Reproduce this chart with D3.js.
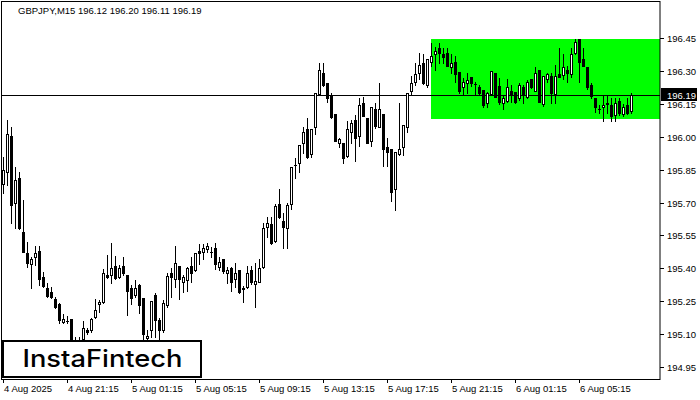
<!DOCTYPE html>
<html><head><meta charset="utf-8">
<script src="https://cdn.jsdelivr.net/npm/d3@7"></script>
<style>html,body{margin:0;padding:0;background:#fff;}svg{display:block;}</style>
</head><body>
<script>
const symbolTitle = "GBPJPY,M15  196.12 196.20 196.11 196.19";
const opens = [195.784,195.841,196.004,195.699,195.812,195.567,195.471,195.419,195.450,195.478,
195.361,195.308,195.293,195.258,195.238,195.156,195.159,195.166,195.072,195.063,
195.076,195.117,195.118,195.176,195.236,195.247,195.369,195.369,195.410,195.358,
195.410,195.369,195.308,195.277,195.323,195.262,195.081,195.118,195.277,195.163,
195.118,195.232,195.377,195.349,195.410,195.338,195.346,195.410,195.392,195.478,
195.475,195.486,195.475,195.491,195.407,195.441,195.377,195.399,195.349,195.392,
195.308,195.315,195.392,195.328,195.338,195.407,195.589,195.602,195.526,195.693,
195.617,195.582,195.693,195.871,195.882,195.973,196.034,195.922,196.044,196.196,
196.293,196.245,196.187,196.104,195.973,195.973,195.912,196.023,196.077,196.004,
196.153,196.085,195.982,196.126,196.044,196.104,195.952,195.943,195.760,195.922,
195.952,196.044,196.211,196.252,196.293,196.336,196.237,196.343,196.378,196.404,
196.378,196.382,196.318,196.343,196.297,196.226,196.245,196.275,196.241,196.226,
196.214,196.153,196.196,196.292,196.232,196.153,196.165,196.211,196.206,196.176,
196.226,196.183,196.263,196.211,196.305,196.150,196.263,196.278,196.196,196.287,
196.282,196.305,196.287,196.384,196.445,196.354,196.318,196.237,196.176,196.127,
196.135,196.153,196.145,196.100,196.165,196.104,196.145,196.12];
const highs = [195.908,196.077,196.046,195.864,195.841,195.711,195.521,195.452,195.501,195.501,
195.384,195.331,195.315,195.270,195.240,195.191,195.182,195.168,195.087,195.086,
195.160,195.125,195.171,195.258,195.255,195.395,195.460,195.516,195.456,195.414,
195.450,195.369,195.323,195.346,195.328,195.262,195.118,195.250,195.285,195.171,
195.255,195.379,195.401,195.501,195.410,195.369,195.407,195.452,195.468,195.510,
195.510,195.516,195.495,195.516,195.450,195.441,195.407,195.407,195.422,195.392,
195.318,195.410,195.410,195.422,195.441,195.605,195.635,195.635,195.693,195.760,
195.651,195.696,195.861,195.902,195.963,196.046,196.085,196.034,196.202,196.339,
196.339,196.245,196.202,196.104,195.993,195.973,196.074,196.077,196.100,196.176,
196.181,196.085,196.135,196.156,196.247,196.104,195.993,195.943,195.932,196.156,
196.054,196.202,196.278,196.339,196.384,196.378,196.354,196.427,196.409,196.427,
196.404,196.404,196.378,196.369,196.297,196.267,196.293,196.275,196.252,196.237,
196.214,196.206,196.302,196.293,196.267,196.191,196.263,196.237,196.206,196.247,
196.237,196.260,196.263,196.318,196.305,196.278,196.293,196.293,196.328,196.404,
196.378,196.324,196.404,196.445,196.445,196.404,196.318,196.245,196.176,196.145,
196.187,196.191,196.176,196.176,196.176,196.150,196.176,196.20];
const lows = [195.743,195.780,195.606,195.584,195.580,195.472,195.407,195.309,195.414,195.323,
195.315,195.270,195.262,195.217,195.148,195.150,195.148,195.067,195.026,195.035,
195.049,195.099,195.110,195.171,195.201,195.242,195.354,195.331,195.349,195.354,
195.369,195.186,195.236,195.270,195.194,195.072,195.049,195.084,195.087,195.072,
195.110,195.224,195.270,195.315,195.258,195.293,195.297,195.338,195.389,195.419,
195.441,195.475,195.452,195.395,195.392,195.377,195.331,195.297,195.315,195.288,
195.247,195.308,195.328,195.224,195.336,195.399,195.544,195.510,195.521,195.628,
195.491,195.491,195.669,195.811,195.841,195.925,195.902,195.909,196.013,196.191,
196.232,196.160,196.085,195.980,195.952,195.882,195.909,195.973,195.891,195.958,
196.094,195.970,195.958,196.039,196.043,195.867,195.867,195.708,195.666,195.917,
195.917,196.023,196.196,196.237,196.263,196.241,196.229,196.324,196.305,196.339,
196.336,196.323,196.293,196.252,196.199,196.196,196.202,196.232,196.196,196.196,
196.135,196.135,196.195,196.181,196.150,196.126,196.160,196.160,196.153,196.168,
196.156,196.176,196.222,196.210,196.159,196.141,196.252,196.153,196.153,196.274,
196.263,196.252,196.275,196.378,196.252,196.323,196.217,196.176,196.115,196.107,
196.074,196.110,196.074,196.074,196.100,196.095,196.104,196.11];
const closes = [195.848,196.013,195.689,195.803,195.584,195.475,195.422,195.441,195.468,195.349,
195.319,195.273,195.267,195.224,195.163,195.166,195.161,195.072,195.049,195.072,
195.125,195.108,195.166,195.209,195.245,195.379,195.361,195.399,195.354,195.399,
195.377,195.297,195.262,195.308,195.232,195.099,195.090,195.250,195.163,195.118,
195.240,195.364,195.358,195.422,195.349,195.361,195.399,195.377,195.468,195.468,
195.491,195.501,195.474,195.419,195.430,195.389,195.392,195.338,195.379,195.293,
195.307,195.377,195.338,195.343,195.399,195.582,195.608,195.516,195.684,195.632,
195.589,195.689,195.861,195.872,195.963,196.023,195.909,196.034,196.202,196.305,
196.237,196.176,196.092,195.982,195.989,195.902,196.034,196.062,195.993,196.145,
196.095,195.973,196.135,196.049,196.126,195.943,195.932,195.749,195.932,195.943,
196.054,196.202,196.245,196.287,196.328,196.245,196.354,196.369,196.393,196.384,
196.363,196.324,196.336,196.287,196.211,196.252,196.260,196.245,196.240,196.202,
196.145,196.202,196.302,196.183,196.160,196.176,196.226,196.196,196.160,196.237,
196.196,196.252,196.226,196.293,196.160,196.278,196.287,196.199,196.278,196.275,
196.318,196.293,196.378,196.435,196.343,196.324,196.226,196.187,196.135,196.126,
196.145,196.152,196.095,196.153,196.110,196.135,196.110,196.19];
const priceTicks = [196.45,196.30,196.15,196.00,195.85,195.70,195.55,195.40,195.25,195.10,194.95];
const timeTickIndex = [0,16,32,48,64,80,96,112,128,144];
const timeTickLabels = ["4 Aug 2025","4 Aug 21:15","5 Aug 01:15","5 Aug 05:15","5 Aug 09:15","5 Aug 13:15","5 Aug 17:15","5 Aug 21:15","6 Aug 01:15","6 Aug 05:15"];
const currentPrice = 196.19;
const zoneStartIndex = 107;
const zoneTop = 196.445;
const zoneBottom = 196.08;
const brand = "InstaFintech";

const W = 700, H = 400;
const plotRight = 660, plotBottom = 379;
const svg = d3.select("body").append("svg").attr("width", W).attr("height", H)
  .style("font-family", "'Liberation Sans', Arial, sans-serif");
svg.append("rect").attr("width", W).attr("height", H).attr("fill", "#fff");

const x = d3.scaleLinear().domain([0, 157]).range([3, 631]);
const y = d3.scaleLinear().domain([194.95, 196.45]).range([366.7, 38.3]);
const n = opens.length;

// zone rectangle
svg.append("rect")
  .attr("x", Math.round(x(zoneStartIndex)) ).attr("y", Math.round(y(zoneTop)))
  .attr("width", plotRight - Math.round(x(zoneStartIndex)))
  .attr("height", Math.round(y(zoneBottom)) - Math.round(y(zoneTop)))
  .attr("fill", "#00ff00");

// current price line
svg.append("line").attr("x1", 2).attr("x2", plotRight)
  .attr("y1", Math.round(y(currentPrice)) + 0.5).attr("y2", Math.round(y(currentPrice)) + 0.5)
  .attr("stroke", "#000").attr("stroke-width", 1);

// candles
const g = svg.append("g").attr("shape-rendering", "crispEdges");
d3.range(n).forEach(i => {
  const cx = Math.round(x(i));
  const hy = Math.round(y(highs[i])), ly = Math.round(y(lows[i]));
  const top = Math.round(y(Math.max(opens[i], closes[i])));
  const bot = Math.round(y(Math.min(opens[i], closes[i])));
  g.append("rect").attr("x", cx).attr("y", hy).attr("width", 1).attr("height", Math.max(1, ly - hy + 1)).attr("fill", "#000");
  const bull = closes[i] > opens[i];
  if (bot - top < 2) {
    g.append("rect").attr("x", cx - 1).attr("y", top).attr("width", 3).attr("height", Math.max(1, bot - top + 1)).attr("fill", "#000");
  } else if (bull) {
    g.append("rect").attr("x", cx - 1).attr("y", top).attr("width", 3).attr("height", bot - top + 1).attr("fill", "#000");
    g.append("rect").attr("x", cx).attr("y", top + 1).attr("width", 1).attr("height", bot - top - 1).attr("fill", "#fff");
  } else {
    g.append("rect").attr("x", cx - 1).attr("y", top).attr("width", 3).attr("height", bot - top + 1).attr("fill", "#000");
  }
});

// logo box covers candles
svg.append("rect").attr("x", 3).attr("y", 341).attr("width", 198).attr("height", 36)
  .attr("fill", "#fff").attr("stroke", "#000").attr("stroke-width", 2);
svg.append("text").attr("x", 22.5).attr("y", 366.5).text(brand)
  .attr("font-family", "Inter, 'Open Sans', sans-serif").attr("font-weight", 500)
  .attr("font-size", 24).attr("textLength", 160).attr("lengthAdjust", "spacingAndGlyphs").attr("fill", "#000");

// frame
svg.append("rect").attr("x", 1.5).attr("y", 1.5).attr("width", plotRight - 1.5).attr("height", plotBottom - 1)
  .attr("fill", "none").attr("stroke", "#000").attr("stroke-width", 1);

// right axis
const ra = svg.append("g");
priceTicks.forEach(v => {
  const yy = Math.round(y(v)) + 0.5;
  ra.append("line").attr("x1", plotRight).attr("x2", plotRight + 4).attr("y1", yy).attr("y2", yy).attr("stroke", "#000");
  ra.append("text").attr("x", 667).attr("y", yy + 3.5).attr("font-size", 9.5).attr("fill", "#000").text(d3.format(".2f")(v));
});
const py = Math.round(y(currentPrice));
ra.append("rect").attr("x", 661).attr("y", py - 7).attr("width", 36).attr("height", 13).attr("fill", "#000");
ra.append("text").attr("x", 667).attr("y", py + 3.5).attr("font-size", 9.5).attr("fill", "#fff").text(d3.format(".2f")(currentPrice));

// bottom axis
const ba = svg.append("g");
timeTickIndex.forEach((t, k) => {
  const xx = Math.round(x(t)) + 0.5;
  ba.append("line").attr("x1", xx).attr("x2", xx).attr("y1", plotBottom).attr("y2", plotBottom + 4).attr("stroke", "#000");
  ba.append("text").attr("x", xx + 0.5).attr("y", 392).attr("font-size", 9.5).attr("fill", "#000").text(timeTickLabels[k]);
});

// title
svg.append("text").attr("x", 18).attr("y", 14).attr("font-size", 9.5).attr("fill", "#000").text(symbolTitle);
</script>
</body></html>
